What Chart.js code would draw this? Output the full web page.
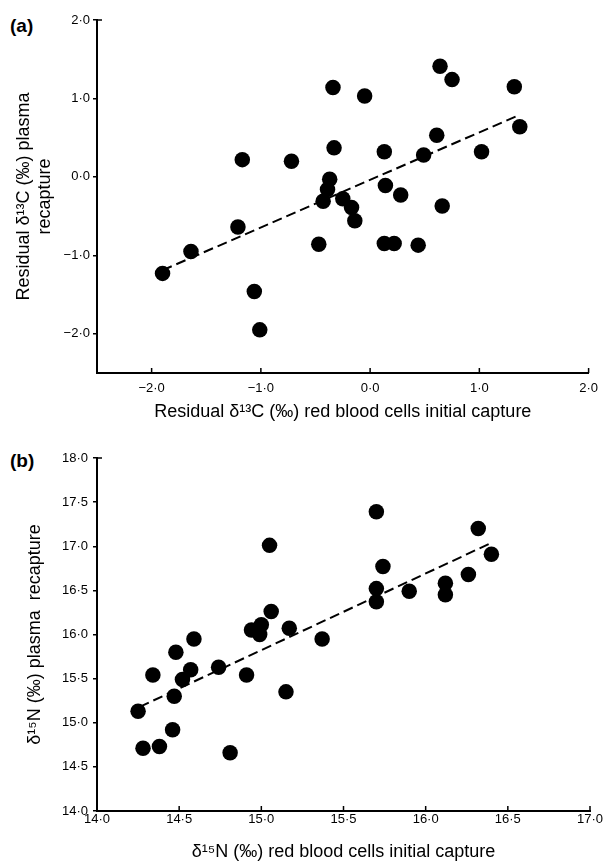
<!DOCTYPE html>
<html>
<head>
<meta charset="utf-8">
<script src="https://cdn.jsdelivr.net/npm/chart.js@4/dist/chart.umd.min.js"></script>
<style>
body { margin: 0; background: #fff; }
#wrap { position: relative; width: 606px; height: 864px; }
canvas { position: absolute; left: 0; }
.lbl { position: absolute; left: 10px; font: bold 19px 'Liberation Sans', Arial, sans-serif; color: #000; }
</style>
</head>
<body>
<div id="wrap">
    <div class="lbl" style="top:15px">(a)</div>
    <canvas id="chartA" width="606" height="430" style="top:0"></canvas>
    <div class="lbl" style="top:450px">(b)</div>
    <canvas id="chartB" width="606" height="424" style="top:440px"></canvas>
</div>
<script>
// panel (a): residual d13C
const aX = [-1.90, -1.64, -1.17, -1.21, -1.06, -1.01, -0.72, -0.47, -0.43, -0.39, -0.37, -0.34, -0.33, -0.25, -0.17, -0.14,
            -0.05, 0.13, 0.14, 0.28, 0.13, 0.22, 0.44, 0.49, 0.61, 0.64, 0.75, 0.66, 1.02, 1.32, 1.37];
const aY = [-1.23, -0.95, 0.22, -0.64, -1.46, -1.95, 0.20, -0.86, -0.31, -0.16, -0.03, 1.14, 0.37, -0.28, -0.39, -0.56,
            1.03, 0.32, -0.11, -0.23, -0.85, -0.85, -0.87, 0.28, 0.53, 1.41, 1.24, -0.37, 0.32, 1.15, 0.64];
const aFitX = [-1.90, 1.35];
const aFitY = [-1.19, 0.78];
const aXTicks = [-2, -1, 0, 1, 2];
const aYTicks = [-2, -1, 0, 1, 2];

// panel (b): d15N
const bX = [14.25, 14.28, 14.38, 14.34, 14.46, 14.47, 14.48, 14.52, 14.57, 14.59, 14.74, 14.81, 14.91, 14.94, 14.99, 15.00,
            15.05, 15.06, 15.17, 15.15, 15.37, 15.70, 15.74, 15.70, 15.70, 15.90, 16.12, 16.12, 16.26, 16.32, 16.40];
const bY = [15.13, 14.71, 14.73, 15.54, 14.92, 15.30, 15.80, 15.49, 15.60, 15.95, 15.63, 14.66, 15.54, 16.05, 16.00, 16.11,
            17.01, 16.26, 16.07, 15.35, 15.95, 17.39, 16.77, 16.52, 16.37, 16.49, 16.58, 16.45, 16.68, 17.20, 16.91];
const bFitX = [14.26, 16.39];
const bFitY = [15.18, 17.03];
const bXTicks = [14, 14.5, 15, 15.5, 16, 16.5, 17];
const bYTicks = [14, 14.5, 15, 15.5, 16, 16.5, 17, 17.5, 18];

Chart.defaults.font.family = "'Liberation Sans', Arial, sans-serif";
Chart.defaults.color = "#000";

const fmt = v => v.toFixed(1).replace(".", "\u00b7").replace("-", "\u2212");

// x ticks point up into the plot, plus a small cap at the top of the y axis
const tickPlugin = {
    id: "inTicks",
    afterDraw(chart) {
        const { ctx, scales: { x, y } } = chart;
        ctx.save();
        ctx.strokeStyle = "#000";
        ctx.lineWidth = 1.5;
        ctx.beginPath();
        x.ticks.forEach((t, i) => {
            const px = x.getPixelForTick(i);
            ctx.moveTo(px, x.top);
            ctx.lineTo(px, x.top - 5);
        });
        ctx.moveTo(y.right, y.top);
        ctx.lineTo(y.right + 5, y.top);
        ctx.stroke();
        ctx.restore();
    }
};

function makeChart(id, o) {
    new Chart(document.getElementById(id), {
        type: "scatter",
        data: {
            datasets: [
                {
                    data: o.xs.map((v, i) => ({ x: v, y: o.ys[i] })),
                    backgroundColor: "#000",
                    borderWidth: 0,
                    pointRadius: 7.75
                },
                {
                    type: "line",
                    data: o.fitX.map((v, i) => ({ x: v, y: o.fitY[i] })),
                    borderColor: "#000",
                    borderWidth: 2,
                    borderDash: [10, 5],
                    pointRadius: 0,
                    fill: false
                }
            ]
        },
        options: {
            responsive: false,
            animation: false,
            events: [],
            layout: { padding: { left: 0, right: 16, top: o.top, bottom: 0 } },
            plugins: { legend: { display: false }, tooltip: { enabled: false } },
            scales: {
                x: {
                    type: "linear",
                    min: o.xMin, max: o.xMax,
                    afterBuildTicks: s => { s.ticks = o.xTicks.map(v => ({ value: v })); },
                    afterFit: s => { s.height = o.xH; },
                    grid: { display: false, drawTicks: false },
                    border: { color: "#000", width: 2 },
                    ticks: { padding: o.xPad, font: { size: 13 }, callback: fmt, maxRotation: 0 },
                    title: { display: true, text: o.xTitle, font: { size: 18 }, padding: { top: 0, bottom: o.xTitlePad } }
                },
                y: {
                    type: "linear",
                    min: o.yMin, max: o.yMax,
                    afterBuildTicks: s => { s.ticks = o.yTicks.map(v => ({ value: v })); },
                    afterFit: s => { s.width = 97; },
                    grid: { display: true, drawOnChartArea: false, drawTicks: true, tickLength: 4, color: "#000", lineWidth: 1.5 },
                    border: { color: "#000", width: 2 },
                    ticks: { padding: o.yPad, font: { size: 13 }, callback: fmt },
                    title: { display: true, text: o.yTitle, font: { size: 18, lineHeight: 1.2 }, padding: { top: o.yTitlePad, bottom: 0 } }
                }
            }
        },
        plugins: [tickPlugin]
    });
}

makeChart("chartA", {
    xs: aX, ys: aY, fitX: aFitX, fitY: aFitY,
    xMin: -2.5, xMax: 2.0, yMin: -2.5, yMax: 2.0,
    xTicks: aXTicks, yTicks: aYTicks,
    top: 20, xH: 57, xPad: 8, yPad: 3, xTitlePad: 7, yTitlePad: 13,
    xTitle: "Residual \u03b4\u00b9\u00b3C (\u2030) red blood cells initial capture",
    yTitle: ["Residual \u03b4\u00b9\u00b3C (\u2030) plasma", "recapture"]
});

makeChart("chartB", {
    xs: bX, ys: bY, fitX: bFitX, fitY: bFitY,
    xMin: 14, xMax: 17, yMin: 14, yMax: 18,
    xTicks: bXTicks, yTicks: bYTicks,
    top: 18, xH: 53, xPad: 1, yPad: 5, xTitlePad: 1, yTitlePad: 24,
    xTitle: "\u03b4\u00b9\u2075N (\u2030) red blood cells initial capture",
    yTitle: "\u03b4\u00b9\u2075N (\u2030) plasma  recapture"
});
</script>
</body>
</html>
